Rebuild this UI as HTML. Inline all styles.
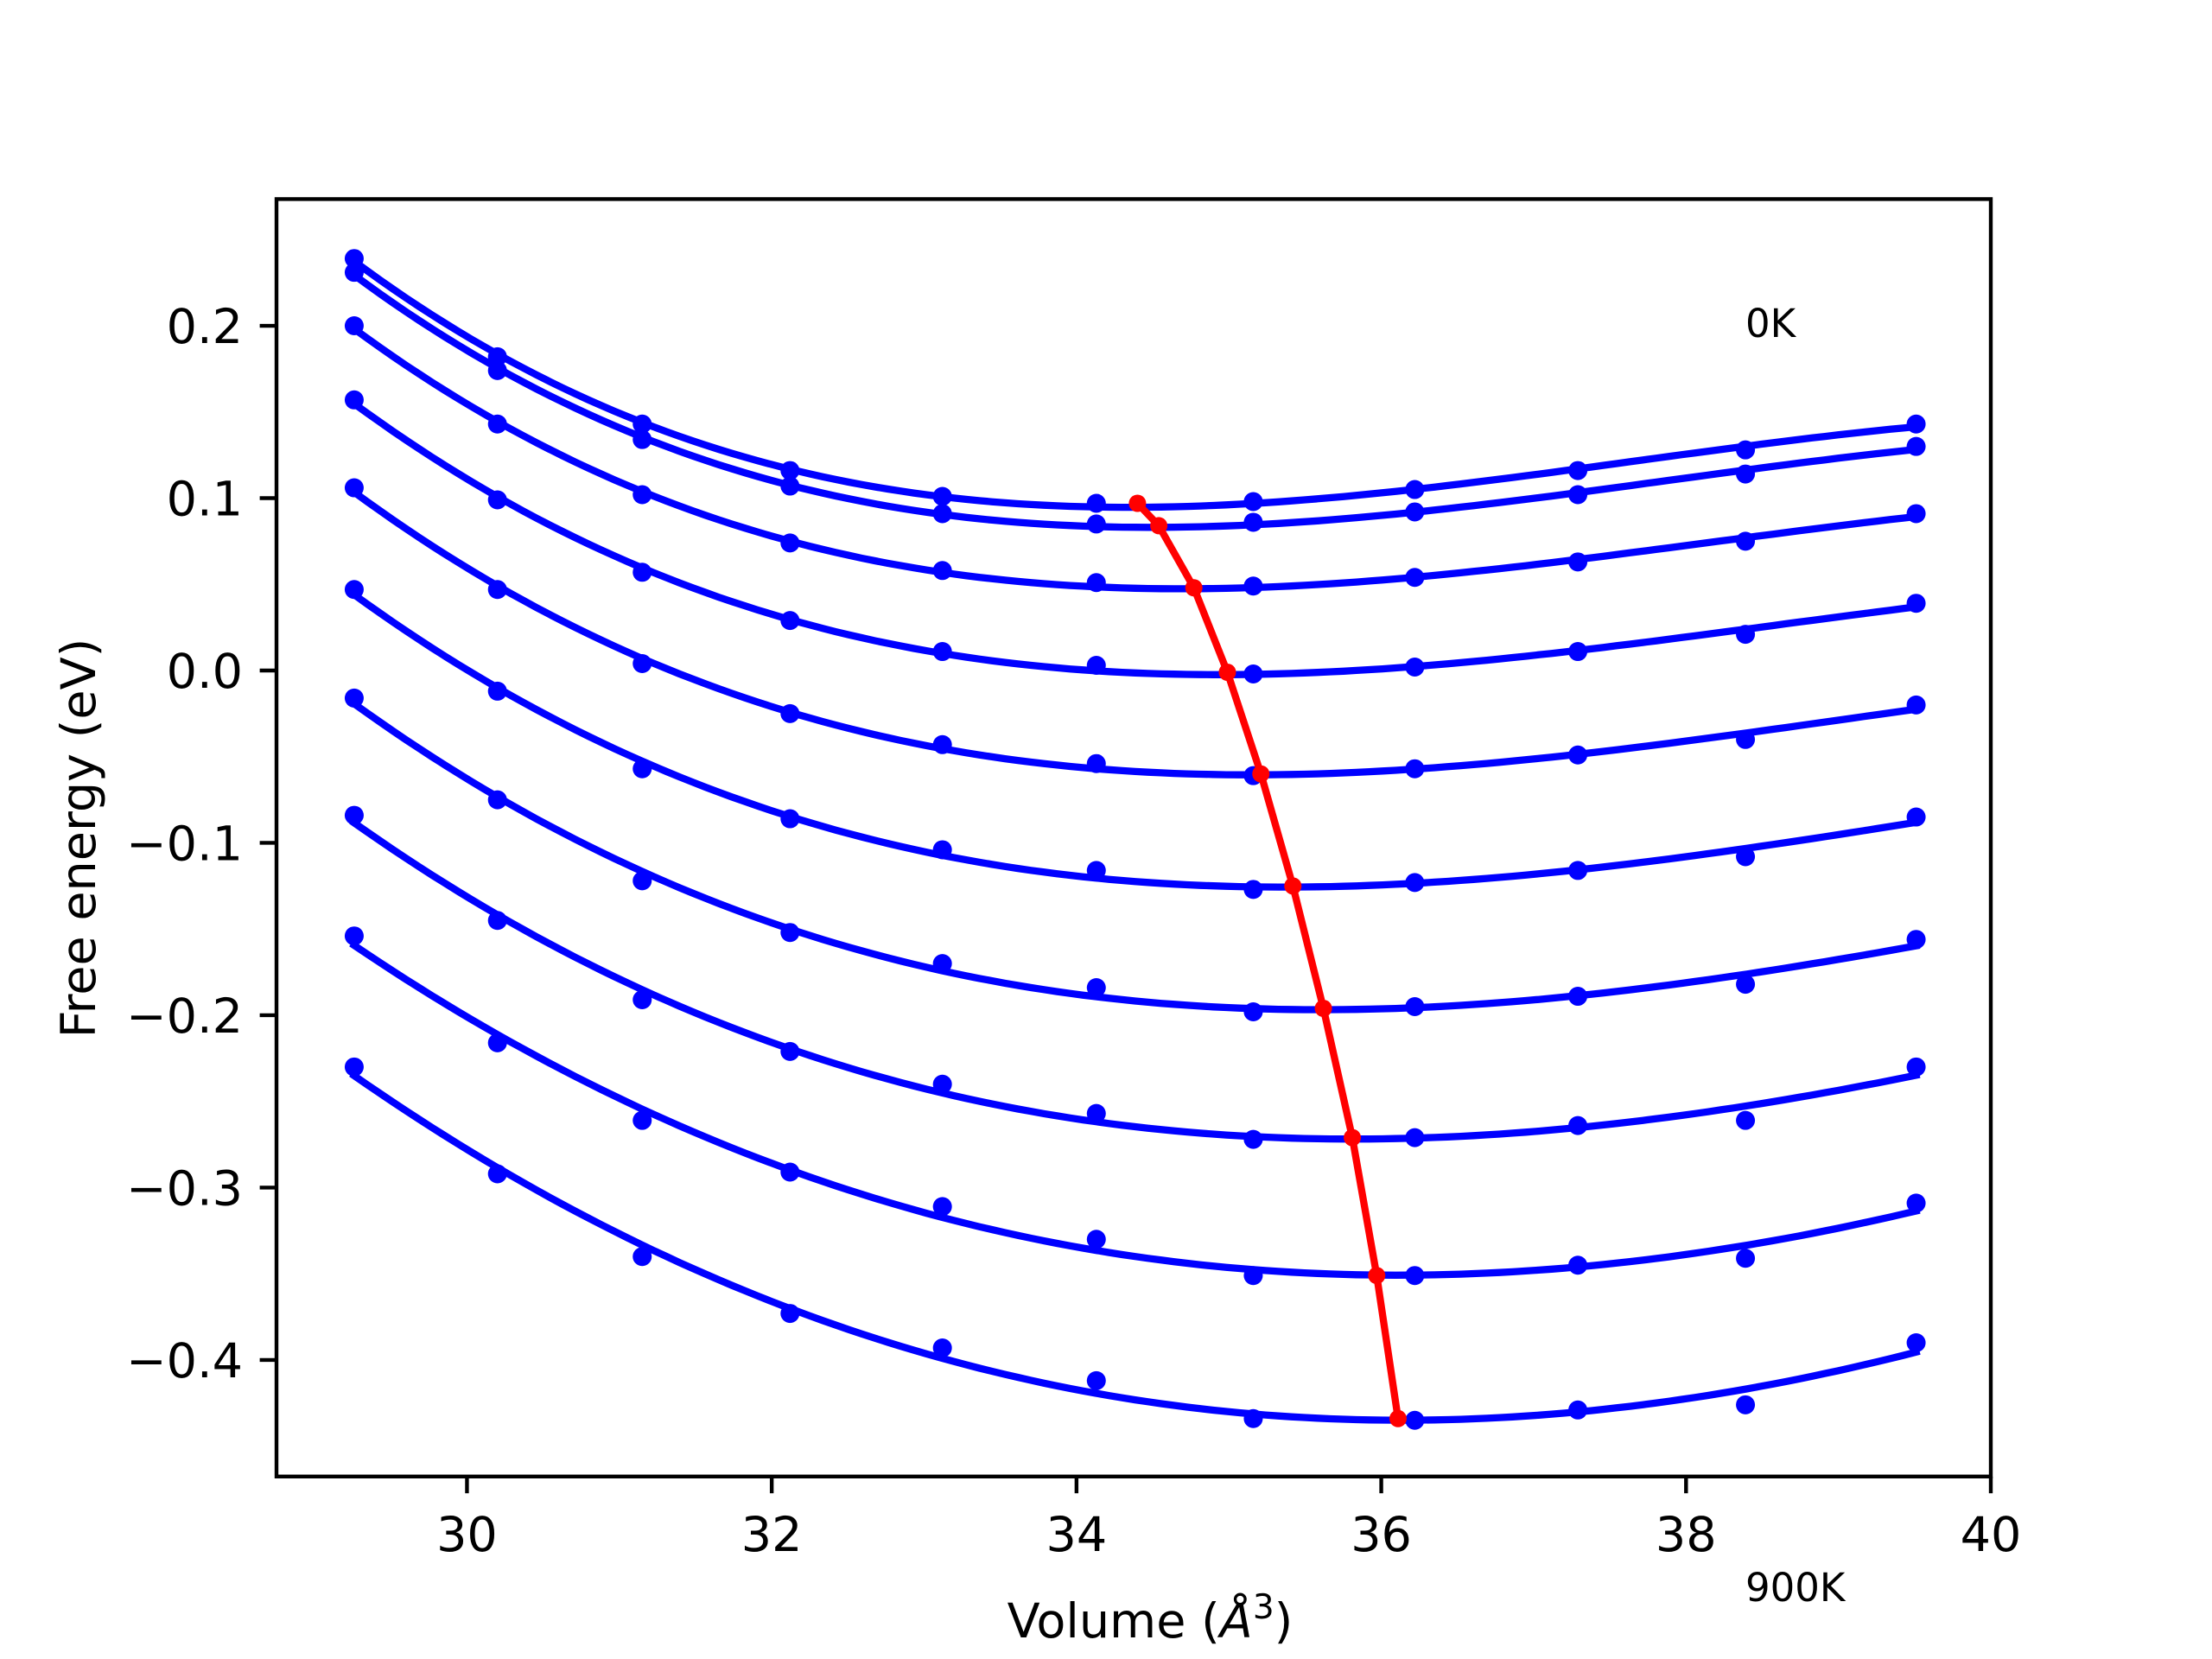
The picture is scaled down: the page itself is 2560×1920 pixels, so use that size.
<!DOCTYPE html>
<html><head><meta charset="utf-8"><style>
html,body{margin:0;padding:0;background:#fff;}
svg{display:block;font-family:"DejaVu Sans","Liberation Sans",sans-serif;}
</style></head><body>
<svg id="chart" width="2560" height="1920" viewBox="0 0 2560 1920" xmlns="http://www.w3.org/2000/svg">
<rect width="2560" height="1920" fill="#fff"/>
<g id="plot"></g>
<g id="axes"></g>
<text x="2020" y="390" font-size="45">0K</text>
<text x="2020" y="1853" font-size="45">900K</text>
<text x="1331" y="1895" font-size="55.6" text-anchor="middle">Volume (<tspan font-style="italic">Å</tspan><tspan font-size="39" dy="-22">3</tspan><tspan dy="22">)</tspan></text>
<text transform="translate(110,970) rotate(-90)" font-size="55.6" text-anchor="middle">Free energy (eV)</text>
</svg>
<script>
const volumes = [29.26,30.20,31.15,32.12,33.12,34.13,35.16,36.22,37.29,38.39,39.51];
const energies = [
 [0.239,0.182,0.143,0.116,0.101,0.097,0.098,0.105,0.116,0.128,0.143],
 [0.231,0.174,0.134,0.107,0.091,0.085,0.086,0.092,0.102,0.114,0.130],
 [0.200,0.143,0.102,0.074,0.058,0.051,0.049,0.054,0.063,0.075,0.091],
 [0.157,0.099,0.057,0.029,0.011,0.003,-0.002,0.002,0.011,0.021,0.039],
 [0.106,0.047,0.004,-0.025,-0.043,-0.054,-0.061,-0.057,-0.049,-0.040,-0.020],
 [0.047,-0.012,-0.057,-0.086,-0.104,-0.116,-0.127,-0.123,-0.116,-0.108,-0.085],
 [-0.016,-0.075,-0.122,-0.152,-0.170,-0.184,-0.198,-0.195,-0.189,-0.182,-0.156],
 [-0.084,-0.145,-0.191,-0.221,-0.240,-0.257,-0.272,-0.271,-0.264,-0.261,-0.230],
 [-0.154,-0.216,-0.261,-0.291,-0.311,-0.330,-0.351,-0.351,-0.345,-0.341,-0.309],
 [-0.230,-0.292,-0.340,-0.373,-0.393,-0.412,-0.434,-0.435,-0.429,-0.426,-0.390]
];
const minVolumes = [34.40,34.54,34.77,34.99,35.21,35.42,35.62,35.81,35.97,36.11];
const minEnergies = [0.097,0.084,0.048,-0.001,-0.060,-0.125,-0.196,-0.271,-0.351,-0.434];
const xTicks = [30,32,34,36,38,40];
const yTicks = [0.2,0.1,0.0,-0.1,-0.2,-0.3,-0.4];
const yTickLabels = ["0.2","0.1","0.0","\u22120.1","\u22120.2","\u22120.3","\u22120.4"];

const L=320,R=2304,T=230.4,B=1708.8;
const XMIN=28.75,XMAX=40.0,YMIN=-0.4676,YMAX=0.2735;
const xs=v=>L+(v-XMIN)/(XMAX-XMIN)*(R-L);
const ys=e=>B-(e-YMIN)/(YMAX-YMIN)*(B-T);
const NS="http://www.w3.org/2000/svg";
const plot=document.getElementById('plot'), axes=document.getElementById('axes');
function mk(tag,attrs,parent){const el=document.createElementNS(NS,tag);for(const k in attrs)el.setAttribute(k,attrs[k]);parent.appendChild(el);return el;}

// cubic least-squares fit
function fit(x,y){
  const n=4, A=[...Array(n)].map(()=>Array(n+1).fill(0));
  for(let i=0;i<x.length;i++){const t=x[i]-35;const p=[1,t,t*t,t*t*t];
    for(let r=0;r<n;r++){for(let c=0;c<n;c++)A[r][c]+=p[r]*p[c];A[r][n]+=p[r]*y[i];}}
  for(let i=0;i<n;i++){let m=i;for(let k=i+1;k<n;k++)if(Math.abs(A[k][i])>Math.abs(A[m][i]))m=k;[A[i],A[m]]=[A[m],A[i]];
    for(let k=0;k<n;k++)if(k!==i){const f=A[k][i]/A[i][i];for(let c=i;c<=n;c++)A[k][c]-=f*A[i][c];}}
  const co=A.map((r,i)=>r[n]/r[i]);
  return v=>{const t=v-35;return co[0]+co[1]*t+co[2]*t*t+co[3]*t*t*t;};
}

energies.forEach((row,ci)=>{
  const f=fit(volumes,row);
  let d='';
  const v0=volumes[0],v1=volumes[volumes.length-1];
  for(let i=0;i<=120;i++){const v=v0+(v1-v0)*i/120;d+=(i?'L':'M')+xs(v).toFixed(1)+','+ys(f(v)).toFixed(1);}
  const p=mk('path',{d:d,fill:'none',stroke:'#0000ff','stroke-width':8.3,'stroke-linecap':'square'},plot);
  
  
  row.forEach((e,j)=>{
    const c=mk('circle',{cx:xs(volumes[j]),cy:ys(e),r:11,fill:'#0000ff'},plot);
    
    
  });
});
let rd='';
minVolumes.forEach((v,i)=>{rd+=(i?'L':'M')+xs(v).toFixed(1)+','+ys(minEnergies[i]).toFixed(1);});
const rl=mk('path',{d:rd,fill:'none',stroke:'#ff0000','stroke-width':8.3,'stroke-linejoin':'round'},plot);


minVolumes.forEach((v,i)=>{
  const c=mk('circle',{cx:xs(v),cy:ys(minEnergies[i]),r:10,fill:'#ff0000'},plot);
  
  
});

const fr=mk('rect',{x:L,y:T,width:R-L,height:B-T,fill:'none',stroke:'#000','stroke-width':4.4},axes);


xTicks.forEach(v=>{
  const x=xs(v);
  const t=mk('line',{x1:x,x2:x,y1:B,y2:B+19.4,stroke:'#000','stroke-width':4.4},axes);
  
  
  const l=mk('text',{x:x,y:B+86,'font-size':55.6,'text-anchor':'middle'},axes);
  l.textContent=String(v);
  
  
});
yTicks.forEach((v,i)=>{
  const y=ys(v);
  const t=mk('line',{x1:L-19.4,x2:L,y1:y,y2:y,stroke:'#000','stroke-width':4.4},axes);
  
  
  const l=mk('text',{x:L-39,y:y+20,'font-size':55.6,'text-anchor':'end'},axes);
  l.textContent=yTickLabels[i];
  
  
});
</script>
</body></html>
